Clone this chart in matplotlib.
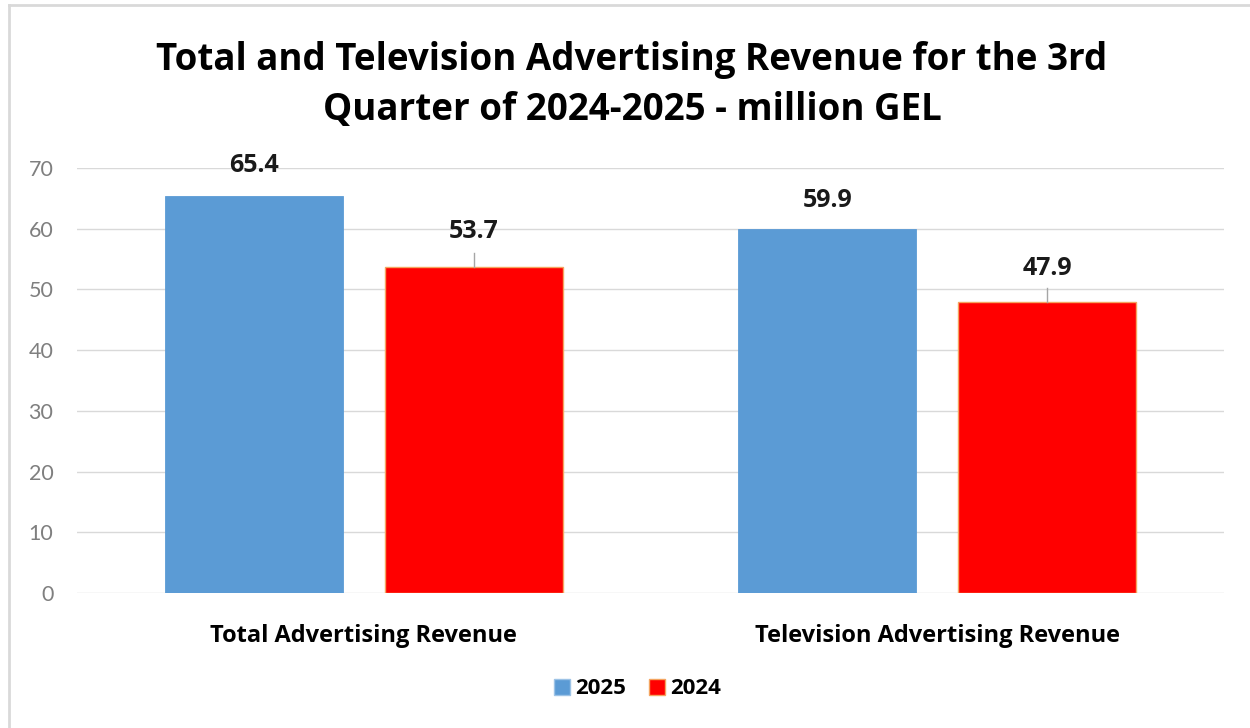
import matplotlib
matplotlib.use("Agg")
import matplotlib.pyplot as plt
from matplotlib.lines import Line2D
import numpy as np

categories = ["Total Advertising Revenue", "Television Advertising Revenue"]
series_names = ["2025", "2024"]
values_2025 = [65.4, 59.9]
values_2024 = [53.7, 47.9]
y_ticks = [0, 10, 20, 30, 40, 50, 60, 70]
title = "Total and Television Advertising Revenue for the 3rd\nQuarter of 2024-2025 - million GEL"

plt.rcParams['font.family'] = ['Lato', 'DejaVu Sans']
BOLD = ['Open Sans', 'DejaVu Sans']

fig = plt.figure(figsize=(12.5, 7.28), dpi=100)
W, H = 1250, 728
ax = fig.add_axes([77 / W, 1 - 593 / H, (1224 - 77) / W, (593 - 168) / H])

x = np.arange(len(categories))
bw = 0.31
off = 0.192
ax.bar(x - off, values_2025, bw, color="#5B9BD5", edgecolor="#5B9BD5", linewidth=0.6, zorder=3)
ax.bar(x + off, values_2024, bw, color="#FF0000", edgecolor="#F4A460", linewidth=1.0, zorder=3)

ax.set_xlim(-0.5, 1.5)
ax.set_ylim(0, 70)
ax.set_yticks(y_ticks)
ax.grid(axis='y', color="#D9D9D9", linewidth=1.0, zorder=0)
for s in ax.spines.values():
    s.set_visible(False)
ax.tick_params(axis='y', length=0, pad=17, labelsize=15.5, labelcolor="#7F7F7F")
ax.tick_params(axis='x', length=0, pad=22)
ax.set_xticks(x)
ax.set_xticklabels(categories, fontsize=17, fontweight='bold', color="#000000", family=BOLD)

lab_off_2025 = [5.0, 4.8]
lab_off_2024 = [5.9, 5.5]
for xi, v, lo in zip(x - off, values_2025, lab_off_2025):
    ax.text(xi, v + lo, f"{v:.1f}", ha='center', va='center', fontsize=18, fontweight='bold',
            color="#1a1a1a", family=BOLD)
for xi, v, lo in zip(x + off, values_2024, lab_off_2024):
    ax.text(xi, v + lo, f"{v:.1f}", ha='center', va='center', fontsize=18, fontweight='bold',
            color="#1a1a1a", family=BOLD)
    ax.plot([xi, xi], [v, v + 2.3], color="#A6A6A6", linewidth=1.0, zorder=4)

fig.text(632 / W, 1 - 85 / H, title, ha='center', va='center', fontsize=26.5, fontweight='bold',
         linespacing=1.38, color="#000000", family=BOLD)

handles = [Line2D([], [], marker='s', linestyle='none', markersize=11, markerfacecolor="#5B9BD5", markeredgecolor="#9DC3E6"),
           Line2D([], [], marker='s', linestyle='none', markersize=11, markerfacecolor="#FF0000", markeredgecolor="#F4A460")]
fig.legend(handles, series_names, loc='center', bbox_to_anchor=(636 / W, 1 - 689 / H), ncol=2, frameon=False,
           prop={'size': 16, 'weight': 'bold', 'family': BOLD}, handletextpad=0.1, columnspacing=0.9,
           handlelength=1.0)

fig.add_artist(Line2D([8.5 / W, 1.0], [1 - 5 / H, 1 - 5 / H], color="#D9D9D9", linewidth=2.0))
fig.add_artist(Line2D([9 / W, 9 / W], [0, 1 - 5 / H], color="#D9D9D9", linewidth=2.0))

fig.savefig("out.png", dpi=100, facecolor="white")
